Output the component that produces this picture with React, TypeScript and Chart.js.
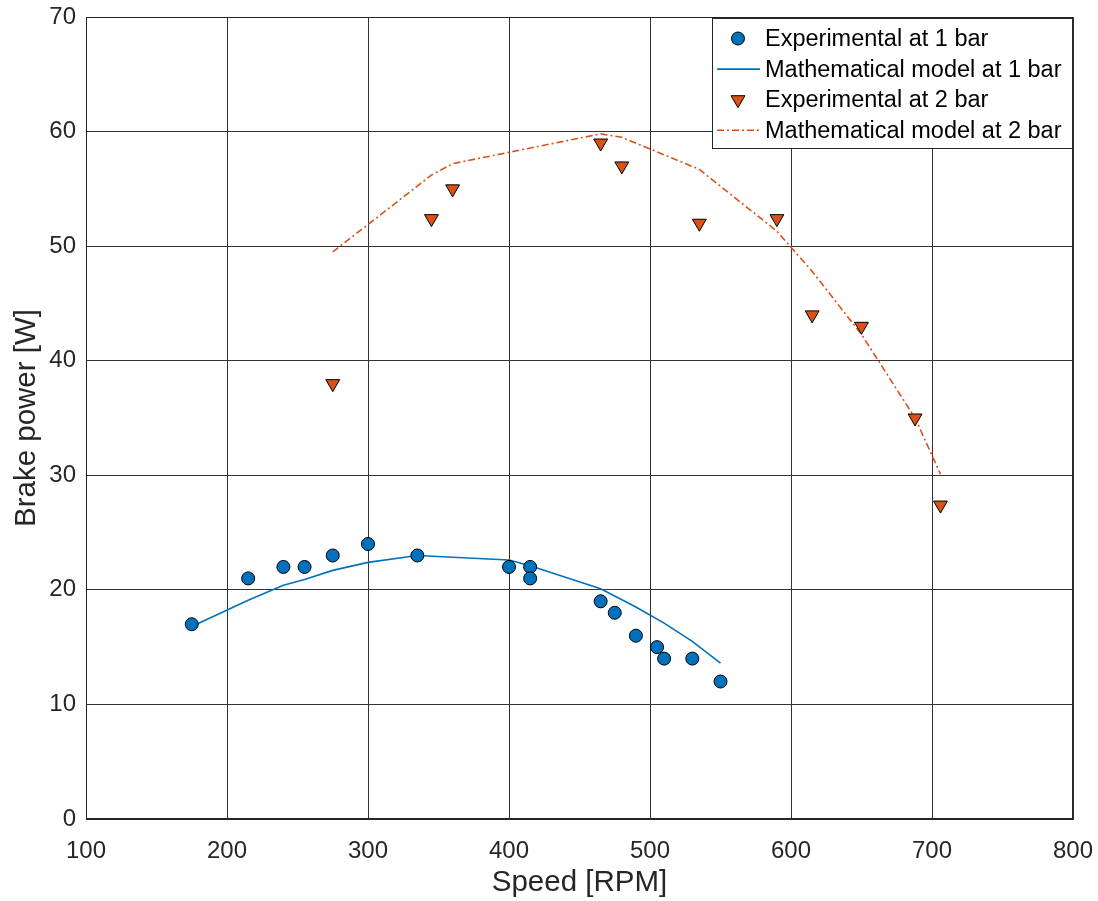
import React, { useEffect, useRef } from 'react';
import { Chart, registerables } from 'chart.js';

Chart.register(...registerables);

const exp1Speed = [175, 215, 240, 255, 275, 300, 335, 400, 415, 415, 465, 475, 490, 505, 510, 530, 550];
const exp1Power = [17, 21, 22, 22, 23, 24, 23, 22, 22, 21, 19, 18, 16, 15, 14, 14, 12];
const model1Speed = [175, 215, 240, 255, 275, 300, 335, 400, 415, 465, 490, 510, 530, 550];
const model1Power = [16.8, 19.1, 20.4, 20.9, 21.7, 22.4, 23.0, 22.6, 22.1, 20.1, 18.5, 17.1, 15.5, 13.6];
const exp2Speed = [275, 345, 360, 465, 480, 535, 590, 615, 650, 688, 706];
const exp2Power = [38, 52.4, 55, 59, 57, 52, 52.4, 44, 43, 35, 27.4];
const model2Speed = [275, 345, 360, 465, 480, 535, 590, 615, 650, 688, 706];
const model2Power = [49.5, 56.2, 57.2, 59.8, 59.5, 56.7, 51.3, 47.8, 42.3, 35.0, 30.1];
const seriesLabels = [
  'Experimental at 1 bar',
  'Mathematical model at 1 bar',
  'Experimental at 2 bar',
  'Mathematical model at 2 bar',
];
const xTitle = 'Speed [RPM]';
const yTitle = 'Brake power [W]';

const BLUE = '#0072BD';
const ORANGE = '#D95319';
const FONT = '"Liberation Sans", Arial, Helvetica, sans-serif';
const AXIS = '#262626';

const toPts = (xs: number[], ys: number[]) => xs.map((x, i) => ({ x, y: ys[i] }));

const framePlugin = {
  id: 'frameLegend',
  afterDraw(chart: any) {
    const { ctx, chartArea: a } = chart;
    ctx.save();
    ctx.strokeStyle = AXIS;
    ctx.lineWidth = 1;
    ctx.strokeRect(Math.round(a.left) + 0.5, Math.round(a.top) + 0.5, Math.round(a.right - a.left) - 1, Math.round(a.bottom - a.top) - 1);

    // legend box
    const bw = 360;
    const bh = 130;
    const bx = Math.round(a.right) - bw - 1;
    const by = Math.round(a.top) + 1;
    ctx.fillStyle = '#ffffff';
    ctx.fillRect(bx, by, bw, bh);
    ctx.strokeStyle = AXIS;
    ctx.strokeRect(bx + 0.5, by + 0.5, bw, bh);

    const ds = chart.data.datasets;
    ctx.font = `23.5px ${FONT}`;
    ctx.textBaseline = 'middle';
    ctx.textAlign = 'left';
    for (let i = 0; i < ds.length; i++) {
      const cy = by + 20.5 + i * 30.6;
      const mx = bx + 26;
      const d = ds[i];
      if (d.showLine === false) {
        ctx.fillStyle = d.pointBackgroundColor;
        ctx.strokeStyle = '#000';
        ctx.lineWidth = 1;
        ctx.beginPath();
        if (d.pointStyle === 'circle') {
          ctx.arc(mx, cy, d.pointRadius, 0, Math.PI * 2);
        } else {
          const r = d.pointRadius;
          ctx.moveTo(mx - r * 0.866, cy - r * 0.5);
          ctx.lineTo(mx + r * 0.866, cy - r * 0.5);
          ctx.lineTo(mx, cy + r);
          ctx.closePath();
        }
        ctx.fill();
        ctx.stroke();
      } else {
        ctx.strokeStyle = d.borderColor;
        ctx.lineWidth = d.borderWidth;
        ctx.setLineDash(d.borderDash || []);
        ctx.beginPath();
        ctx.moveTo(bx + 5, cy);
        ctx.lineTo(bx + 48, cy);
        ctx.stroke();
        ctx.setLineDash([]);
      }
      ctx.fillStyle = '#000';
      ctx.fillText(d.label, bx + 53, cy + 1);
    }
    ctx.restore();
  },
};

export default function App() {
  const ref = useRef<HTMLCanvasElement | null>(null);
  useEffect(() => {
    document.body.style.margin = '0';
    const canvas = ref.current;
    if (!canvas) return;
    const chart = new Chart(canvas, {
      type: 'scatter',
      data: {
        datasets: [
          {
            label: seriesLabels[0],
            data: toPts(exp1Speed, exp1Power),
            showLine: false,
            pointStyle: 'circle',
            pointRadius: 6.5,
            pointBackgroundColor: BLUE,
            pointBorderColor: '#000',
            pointBorderWidth: 1,
            backgroundColor: BLUE,
            borderColor: '#000',
          },
          {
            label: seriesLabels[1],
            data: toPts(model1Speed, model1Power),
            showLine: true,
            borderColor: BLUE,
            borderWidth: 1.6,
            pointRadius: 0,
            tension: 0,
          },
          {
            label: seriesLabels[2],
            data: toPts(exp2Speed, exp2Power),
            showLine: false,
            pointStyle: 'triangle',
            rotation: 180,
            pointRadius: 8,
            pointBackgroundColor: ORANGE,
            pointBorderColor: '#000',
            pointBorderWidth: 1,
            backgroundColor: ORANGE,
            borderColor: '#000',
          },
          {
            label: seriesLabels[3],
            data: toPts(model2Speed, model2Power),
            showLine: true,
            borderColor: ORANGE,
            borderWidth: 1.6,
            borderDash: [7, 3, 2, 3],
            pointRadius: 0,
            tension: 0,
          },
        ],
      },
      options: {
        responsive: false,
        animation: false,
        layout: { padding: { top: 17, right: 25, left: 0, bottom: 0 } },
        plugins: { legend: { display: false }, tooltip: { enabled: false } },
        scales: {
          x: {
            type: 'linear',
            min: 100,
            max: 800,
            ticks: { stepSize: 100, color: AXIS, font: { size: 24, family: FONT }, padding: 18 },
            grid: { color: '#333333', lineWidth: 1, drawTicks: false },
            border: { color: AXIS },
            title: { display: true, text: xTitle, color: AXIS, font: { size: 29.5, family: FONT }, padding: { top: 0, bottom: 0 } },
            afterFit: (s: any) => { s.height = 82; s.paddingLeft = 0; s.paddingRight = 0; },
          },
          y: {
            type: 'linear',
            min: 0,
            max: 70,
            ticks: { stepSize: 10, color: AXIS, font: { size: 24, family: FONT }, padding: 10 },
            grid: { color: '#333333', lineWidth: 1, drawTicks: false },
            border: { color: AXIS },
            title: { display: true, text: yTitle, color: AXIS, font: { size: 29.5, family: FONT }, padding: { top: 9, bottom: 0 } },
            afterFit: (s: any) => { s.width = 86; s.paddingTop = 0; s.paddingBottom = 0; },
          },
        },
      },
      plugins: [framePlugin],
    });
    return () => chart.destroy();
  }, []);
  return (
    <div style={{ width: 1098, height: 901 }}>
      <canvas ref={ref} width={1098} height={901} style={{ display: 'block' }} />
    </div>
  );
}
